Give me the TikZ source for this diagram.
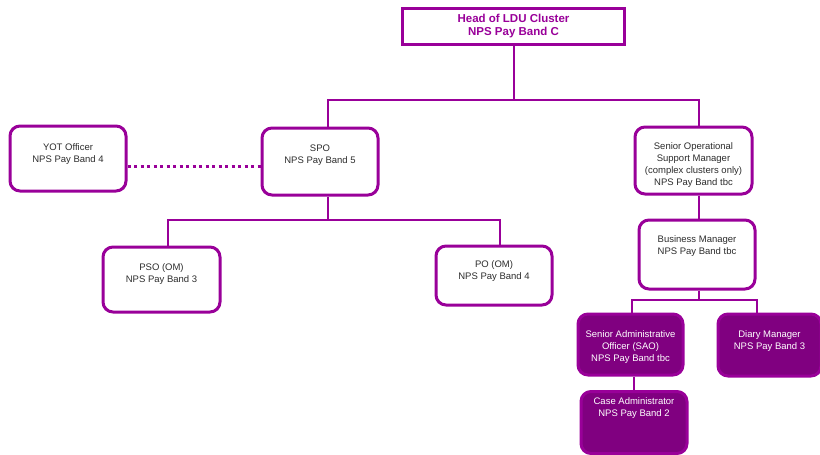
\documentclass[tikz,border=0pt]{standalone}
\usepackage{fontspec}
\setmainfont{Liberation Sans}
\usepackage{tikz}
\usetikzlibrary{calc,backgrounds}
\definecolor{ldupurple}{RGB}{153,0,153}
\definecolor{ldufill}{RGB}{128,0,128}
\definecolor{ldugrey}{RGB}{45,45,45}

\begin{document}
\begin{tikzpicture}[x=1pt,y=-1pt,
    post/.style={draw=ldupurple,line width=3pt,fill=white,rounded corners=10pt,inner sep=0pt},
    admin/.style={post,fill=ldufill},
    link/.style={draw=ldupurple,line width=2pt},
    dots/.style={draw=ldupurple,line width=3pt,dash pattern=on 3pt off 3.5pt},
    txt/.style={align=center,text=ldugrey,font=\fontsize{9.5}{12}\selectfont},
    wtxt/.style={txt,text=white}]
              \useasboundingbox (0,0) rectangle (820,455);
              % boxes
              \node[post,rounded corners=0pt,minimum width=222pt,minimum height=36pt](head)at(513.5,26){};
              \node[post,minimum width=116pt,minimum height=65pt](yot)at(68,158.5){};
              \node[post,minimum width=116pt,minimum height=67pt](spo)at(320,161.5){};
              \node[post,minimum width=117pt,minimum height=67pt](sosm)at(693.5,160.5){};
              \node[post,minimum width=116pt,minimum height=69pt](bm)at(697,254.5){};
              \node[post,minimum width=117pt,minimum height=65pt](pso)at(161.5,279.5){};
              \node[post,minimum width=116pt,minimum height=59pt](po)at(494,275.5){};
              \node[admin,minimum width=105pt,minimum height=61pt](sao)at(630.5,344.5){};
              \node[admin,minimum width=103pt,minimum height=62pt](diary)at(769.5,345){};
              \node[admin,minimum width=106pt,minimum height=62pt](case)at(634,422.5){};
              % texts
              \node[txt,text=ldupurple,font=\bfseries\fontsize{11.5}{13}\selectfont](headT)at(513.5,26){Head of LDU Cluster\\NPS Pay Band C};
              \node[txt](yotT)at(68,154){YOT Officer\\NPS Pay Band 4};
              \node[txt](spoT)at(320,155){SPO\\NPS Pay Band 5};
              \node[txt](sosmT)at(693.5,165){Senior Operational\\Support Manager\\(complex clusters only)\\NPS Pay Band tbc};
              \node[txt](bmT)at(697,246){Business Manager\\NPS Pay Band tbc};
              \node[txt](psoT)at(161.5,274){PSO (OM)\\NPS Pay Band 3};
              \node[txt](poT)at(494,271){PO (OM)\\NPS Pay Band 4};
              \node[wtxt](saoT)at(630.5,347){Senior Administrative\\Officer (SAO)\\NPS Pay Band tbc};
              \node[wtxt](diaryT)at(769.5,341){Diary Manager\\NPS Pay Band 3};
              \node[wtxt](caseT)at(634,408){Case Administrator\\NPS Pay Band 2};
              % connectors
              \coordinate(barA)at(328,100);
              \coordinate(barB)at(699,100);
              \coordinate(barC)at(168,220);
              \coordinate(barD)at(500,220);
              \coordinate(barE)at(632,300);
              \coordinate(barF)at(757,300);
              \coordinate(dotline)at(0,166);
              \begin{scope}[on background layer]
              \draw[link](head.south)--(head.south|-barA);
              \draw[link](spo.north-|barA)|-(barB)--(sosm.north-|barB);
              \draw[link](spo.south-|barA)--(barA|-barC);
              \draw[link](pso.north-|barC)|-(barD)--(po.north-|barD);
              \draw[link](sosm.south-|barB)--(bm.north-|barB);
              \draw[link](bm.south-|barB)--(barB|-barE);
              \draw[link](sao.north-|barE)|-(barF)--(diary.north-|barF);
              \draw[link](case.north|-sao.south)--(case.north);
              \end{scope}
              \draw[dots](yot.east|-dotline)--(spo.west|-dotline);
\end{tikzpicture}
\end{document}
